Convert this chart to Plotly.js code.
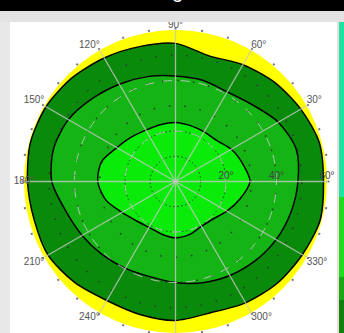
<!DOCTYPE html>
<html><head><meta charset="utf-8">
<script src="https://cdn.plot.ly/plotly-3.0.1.min.js"></script>
<style>html,body{margin:0;padding:0;background:#fff;overflow:hidden}#chart{width:344px;height:333px}</style>
</head><body><div id="chart"></div>
<script>
// Isopter radii (degrees of eccentricity) at meridians every 15 deg (last repeats first)
const theta = [0,15,30,45,60,75,90,105,120,135,150,165,180,195,210,225,240,255,270,285,300,315,330,345,360];
const outerIsopter  = [58.6,59.0,57.3,55.5,53.4,51.5,54.7,55.3,56.5,58.0,59.2,59.5,58.6,58.0,58.3,56.5,54.4,54.5,55.0,53.8,55.5,57.0,58.0,59.3,58.6];
const middleIsopter = [48.5,49.5,47.0,43.0,41.0,41.5,41.8,43.0,44.5,46.5,49.0,50.0,49.0,45.0,42.7,41.0,39.7,39.0,40.0,41.5,43.0,44.5,46.0,47.3,48.5];
const innerIsopter  = [29.5,27.5,25.5,23.0,22.7,22.9,23.4,23.3,23.5,24.8,26.8,30.3,30.8,28.5,24.5,22.0,21.0,21.5,22.3,21.7,20.5,21.0,23.5,26.5,29.5];

const angTickVals = [0,10,20,30,40,50,60,70,80,90,100,110,120,130,140,150,160,170,180,190,200,210,220,230,240,250,260,270,280,290,300,310,320,330,340,350];
const spokeAngles = [0,30,60,90,120,150,180,210,240,270,300,330];
const labelAngles = [30,60,90,120,150,180,210,240,300,330];
const labelText   = ['30°','60°','90°','120°','150°','180°','210°','240°','300°','330°'];
const labelPos    = ['top right','top right','top center','top left','top left','middle center','bottom left','bottom left','bottom right','bottom right'];
const radialTicks = [20,40,60];
const radialText  = ['20°','40°','60°'];
const denseRings  = [10,20];
const sparseRings = [30,40,50];
const radialMax = 60;

const colors = {outer:'#0a8a0a', middle:'#14b414', inner:'#0aeb0a', field:'#ffff00'};

const W = 344, H = 333;
const dom = {x:[23.5/W, 327.5/W], y:[0, (H-30)/H]};
const font = {family:'Liberation Sans, Arial, sans-serif', size:10, color:'#555'};

function iso(r, fill){
  return {type:'scatterpolar', subplot:'polar', r:r, theta:theta, mode:'lines',
    fill:'toself', fillcolor:fill, line:{color:'#000', width:1.5, shape:'spline', smoothing:0.8},
    hoverinfo:'skip', showlegend:false};
}
function dummy(sp){
  return {type:'scatterpolar', subplot:sp, r:[0], theta:[0], mode:'markers',
    marker:{opacity:0, size:1}, hoverinfo:'skip', showlegend:false};
}
const data = [
  iso(outerIsopter, colors.outer),
  iso(middleIsopter, colors.middle),
  iso(innerIsopter, colors.inner),
  dummy('polar2'), dummy('polar3'),
  {type:'scatterpolar', subplot:'polar4', r:labelAngles.map(() => radialMax), theta:labelAngles,
   mode:'text', text:labelText, textposition:labelPos, cliponaxis:false,
   textfont:{family:font.family, size:10, color:'#555'}, hoverinfo:'skip', showlegend:false}
];
const hiddenAng = {showgrid:false, showline:false, ticks:'', showticklabels:false};
const layout = {
  width:W, height:H, margin:{l:0,r:0,t:0,b:0}, paper_bgcolor:'#fff', showlegend:false,
  font:font, dragmode:false,
  polar:{domain:dom, bgcolor:colors.field,
    radialaxis:{range:[0,radialMax], visible:false},
    angularaxis:{rotation:0, direction:'counterclockwise', tickmode:'array', tickvals:angTickVals,
      ticks:'outside', ticklen:2, tickwidth:2, tickcolor:'#777', showticklabels:false, showgrid:false, showline:false}},
  polar2:{domain:dom, bgcolor:'rgba(0,0,0,0)',
    radialaxis:{range:[0,radialMax], tickmode:'array', tickvals:denseRings, showticklabels:false, ticks:'', showline:false,
      gridcolor:'#333', gridwidth:1, griddash:'1.5px,2.5px'},
    angularaxis:hiddenAng},
  polar3:{domain:dom, bgcolor:'rgba(0,0,0,0)',
    radialaxis:{range:[0,radialMax], tickmode:'array', tickvals:sparseRings, showticklabels:false, ticks:'', showline:false,
      gridcolor:'#333', gridwidth:1.5, griddash:'1.5px,14px'},
    angularaxis:hiddenAng},
  polar4:{domain:dom, bgcolor:'rgba(0,0,0,0)',
    radialaxis:{range:[0,radialMax], tickmode:'array', tickvals:radialTicks, ticktext:radialText, angle:0, side:'counterclockwise',
      ticks:'', showline:false, gridcolor:'rgba(200,200,200,0.85)', gridwidth:1, griddash:'dash',
      tickfont:{family:font.family, size:10, color:'#444'}},
    angularaxis:{rotation:0, direction:'counterclockwise', tickmode:'array', tickvals:spokeAngles,
      showticklabels:false, ticks:'', showline:false, showgrid:true, gridcolor:'rgba(200,200,200,0.8)', gridwidth:1.3}},
  shapes:[
    {type:'rect', xref:'paper', yref:'paper', x0:0, x1:1, y0:1-11/H, y1:1, fillcolor:'#000', line:{width:0}},
    {type:'rect', xref:'paper', yref:'paper', x0:0, x1:1, y0:1-22/H, y1:1-11/H, fillcolor:'#e3e3e3', line:{width:0}},
    {type:'rect', xref:'paper', yref:'paper', x0:0, x1:10/W, y0:0, y1:1-22/H, fillcolor:'#e8e8e8', line:{width:0}},
    {type:'rect', xref:'paper', yref:'paper', x0:337/W, x1:339/W, y0:0, y1:1-22/H, fillcolor:'#f4d8dc', line:{width:0}},
    {type:'rect', xref:'paper', yref:'paper', x0:339/W, x1:1, y0:1-197/H, y1:1-22/H, fillcolor:'#18e6a2', line:{width:0}},
    {type:'rect', xref:'paper', yref:'paper', x0:339/W, x1:1, y0:1-277/H, y1:1-197/H, fillcolor:'#1edc1e', line:{width:0}},
    {type:'rect', xref:'paper', yref:'paper', x0:339/W, x1:1, y0:1-300/H, y1:1-277/H, fillcolor:'#17a817', line:{width:0}},
    {type:'rect', xref:'paper', yref:'paper', x0:339/W, x1:1, y0:0, y1:1-300/H, fillcolor:'#0e800e', line:{width:0}}
  ],
  annotations:[
    {xref:'paper', yref:'paper', x:177/W, y:1+9/H, yanchor:'middle', xanchor:'center', showarrow:false,
     text:'g', font:{family:font.family, size:20, color:'#fff'}}
  ]
};
Plotly.newPlot('chart', data, layout, {staticPlot:true, displayModeBar:false});
</script></body></html>
